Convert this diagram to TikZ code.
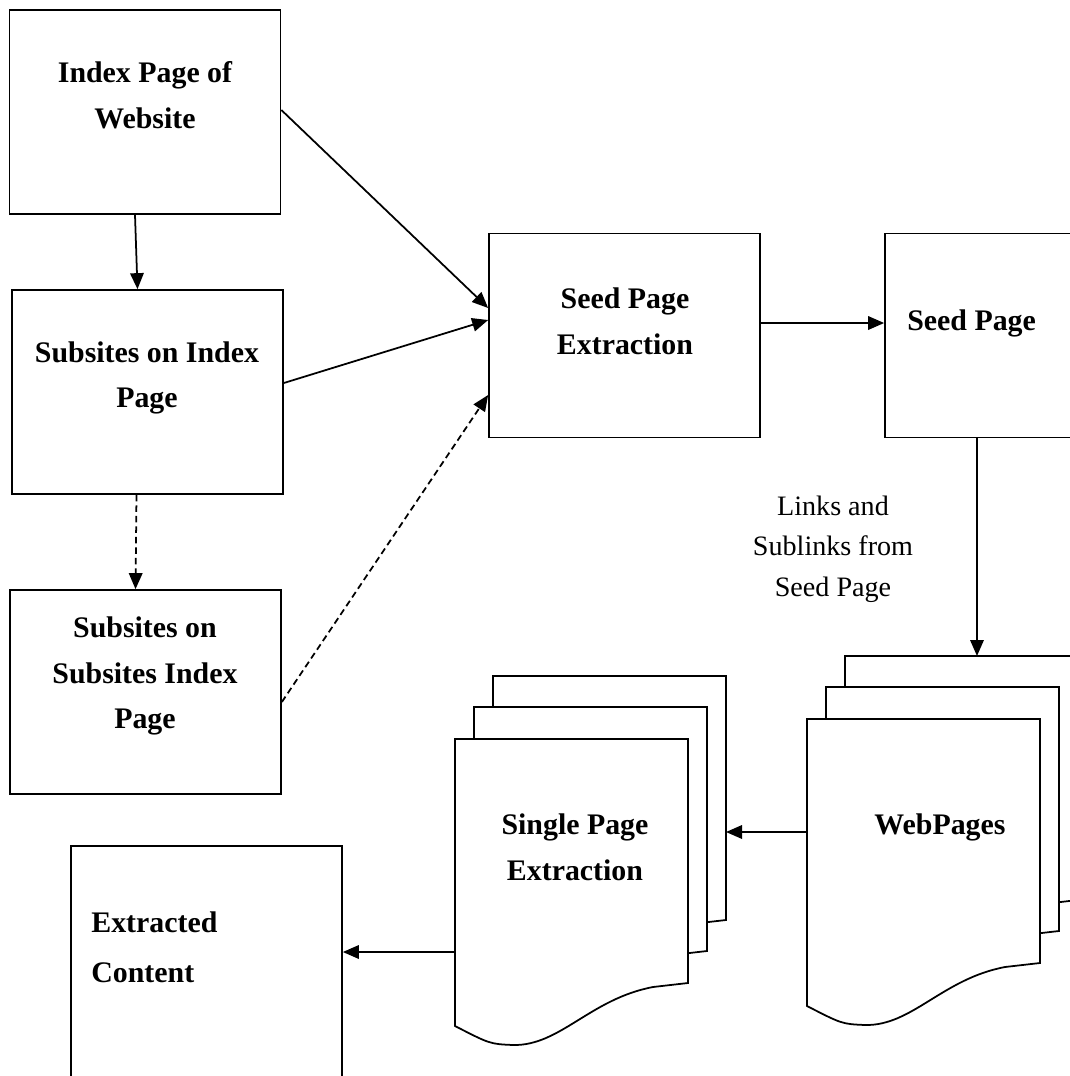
\documentclass[tikz,border=0pt]{standalone}
\usepackage{fontspec}
\setmainfont{Liberation Serif}
\usetikzlibrary{arrows.meta,calc}

\tikzset{
  box/.style={draw, line width=1pt, fill=white, inner sep=0pt,
    minimum width=5.42cm, minimum height=4.08cm},
  page/.style={draw, line width=1pt, fill=white},
  txt/.style={font=\fontsize{17}{26}\selectfont\bfseries, align=center, inner sep=0pt},
  note/.style={font=\fontsize{16}{23}\selectfont, align=center, inner sep=0pt},
  arr/.style={-{Triangle[length=0.32cm, width=0.27cm]}, line width=1pt},
  darr/.style={arr, dash pattern=on 0.13cm off 0.08cm},
}

\begin{document}
\begin{tikzpicture}[x=0.02cm, y=-0.02cm]

  % page frame (pixel grid, y downwards)
  \clip (0,0) rectangle (1070,1076);
  \fill[white] (0,0) rectangle (1070,1076);

  % left column of site pages
  \node[box] (idx) at (145,112) {};
  \node[box] (sub) at (147.5,392) {};
  \node[box] (subsub) at (145.5,692) {};
  \node[txt] (idxtxt) at (145,95) {Index Page of\\Website};
  \node[txt] (subtxt) at (147,378) {Subsites on Index\\Page};
  \node[txt] (subsubtxt) at (145,676) {Subsites on\\Subsites Index\\Page};

  % extraction and seed page
  \node[box] (spx) at (624.5,335.5) {};
  \node[box] (seed) at (1020.5,335.5) {};
  \node[txt] (spxtxt) at (625,321) {Seed Page\\Extraction};
  \node[txt, anchor=west] (seedtxt) at (907,323) {Seed Page};

  % extracted content (runs off the bottom)
  \node[box, minimum height=5.2cm] (ext) at (206.5,976) {};
  \node[txt, align=left, anchor=west, font=\fontsize{17}{28.5}\selectfont\bfseries]
    (exttxt) at (91,947) {Extracted\\Content};

  % stacked documents: back, middle, front
  \foreach \nm/\x/\y in {sp/455/739, wp/807/719}{
    \foreach \k/\dx/\dy in {3/38/-63, 2/19/-32, 1/0/0}{
      \draw[page, shift={(\x+\dx,\y+\dy)}]
        (0,0) coordinate (\nm\k) -- (233,0) coordinate (\nm\k r) -- (233,244)
        -- (198,248) .. controls (135,260) and (105,307) .. (58,306)
        .. controls (35,305) .. (0,287) -- cycle;
    }
  }
  \node[txt] (single) at (575,847) {Single Page\\Extraction};
  \node[txt] (web) at (940,827) {WebPages};
  \node[note] (links) at (833,549) {Links and\\Sublinks from\\Seed Page};

  % connectors
  \draw[arr] ([xshift=-0.2cm]idx.south) -- ([xshift=-0.2cm]sub.north);
  \draw[arr] ([yshift=0.04cm]idx.east) -- ([yshift=0.55cm]spx.west);
  \draw[arr] ([yshift=0.18cm]sub.east) -- ([yshift=0.31cm]spx.west);
  \draw[darr] ([xshift=-0.22cm]sub.south) -- ([xshift=-0.2cm]subsub.north);
  \draw[darr] ([yshift=-0.2cm]subsub.east) -- ([yshift=-1.19cm]spx.west);
  \draw[arr] ([yshift=0.25cm]spx.east) -- ([yshift=0.25cm]seed.west);

  \coordinate (a7) at ($(seed.south)+(-43.5,0)$);
  \draw[arr] (a7) -- (a7 |- wp3);

  \coordinate (a8) at ($(web)+(0,5)$);
  \draw[arr] (a8 -| wp1) -- (a8 -| sp3r);

  \coordinate (a9) at ($(ext.east)+(0,-24)$);
  \draw[arr] (a9 -| sp1) -- (a9);

\end{tikzpicture}
\end{document}
